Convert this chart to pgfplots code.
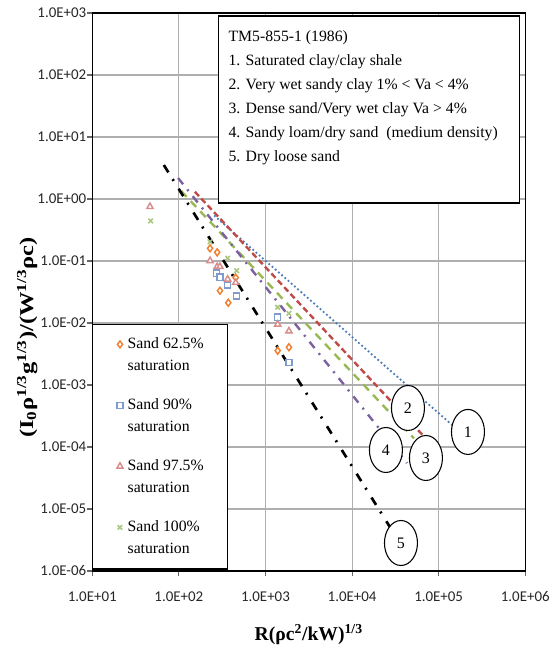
\documentclass[border=0pt]{standalone}
\usepackage{fontspec}
\setmainfont{Liberation Serif}
\newfontfamily\calibri{Carlito}
\usepackage{graphicx}
\usepackage{pgfplots}
\pgfplotsset{compat=1.18}
\usetikzlibrary{shapes.geometric}
\definecolor{lA}{RGB}{74,126,187}
\definecolor{lB}{RGB}{190,75,72}
\definecolor{lC}{RGB}{152,185,84}
\definecolor{lD}{RGB}{125,96,160}
\definecolor{mOr}{RGB}{240,128,48}
\definecolor{mBl}{RGB}{125,155,205}
\definecolor{mPk}{RGB}{217,140,140}
\definecolor{mGr}{RGB}{170,200,130}
\definecolor{gridc}{RGB}{175,175,175}
\pgfplotsset{
  mk/.style={only marks, legend image code/.code={\draw[##1] plot coordinates {(0pt,3.2pt)};}},
}
\begin{document}
\begin{tikzpicture}
\begin{axis}[
  scale only axis, width=324.75pt, height=418.5pt,
  xmode=log, ymode=log, xmin=10, xmax=1e6, ymin=1e-6, ymax=1e3,
  xtick={1e1,1e2,1e3,1e4,1e5,1e6},
  xticklabels={1.0E+01,1.0E+02,1.0E+03,1.0E+04,1.0E+05,1.0E+06},
  ytick={1e-6,1e-5,1e-4,1e-3,1e-2,1e-1,1,1e1,1e2,1e3},
  yticklabels={1.0E-06,1.0E-05,1.0E-04,1.0E-03,1.0E-02,1.0E-01,1.0E+00,1.0E+01,1.0E+02,1.0E+03},
  xminorticks=false, yminorticks=false,
  grid=major, major grid style={gridc, line width=0.8pt},
  tick align=outside, tick pos=left, major tick length=3.75pt,
  tick style={black!60, line width=0.8pt},
  axis line style={black, line width=1.1pt},
  ticklabel style={font=\calibri\fontsize{11.2}{13}\selectfont, text=black!85},
  xticklabel style={yshift=-8pt},
  yticklabel style={inner xsep=0.6pt},
  clip=false,
  xlabel={R(ρc\textsuperscript{2}/kW)\textsuperscript{1/3}},
  xlabel style={at={(axis description cs:0.5,-0.1147)}, anchor=center, font=\bfseries\fontsize{14.7}{17}\selectfont},
  legend style={at={(rel axis cs:0,0.4427)}, anchor=north west, draw=black, line width=0.9pt,
    font=\fontsize{11.8}{16.5}\selectfont, inner xsep=18pt, inner ysep=6.5pt,
    row sep=12.75pt, column sep=3.4pt, cells={anchor=base west},
    nodes={inner sep=0pt, text height=11.55pt, text depth=21.45pt}},
]
% scatter data
\addplot[mk, mark=diamond*, mark size=2.6pt, mark options={draw=mOr, fill=white, line width=1.1pt}] coordinates {
 (229,0.160) (277,0.138) (298,0.0332) (372,0.0212) (453,0.054) (1384,0.00357) (1866,0.00406)};
\addlegendentry{\begin{tabular}[t]{@{}l@{}}Sand 62.5\%\\saturation\end{tabular}}
\addplot[mk, mark=square*, mark size=2.3pt, mark options={draw=mBl, fill=white, line width=1.1pt}] coordinates {
 (273,0.0634) (298,0.0546) (366,0.0410) (465,0.0272) (1384,0.01236) (1866,0.00232)};
\addlegendentry{\begin{tabular}[t]{@{}l@{}}Sand 90\%\\saturation\end{tabular}}
\addplot[mk, mark=triangle*, mark size=2.7pt, mark options={draw=mPk, fill=white, line width=1.1pt}] coordinates {
 (46.4,0.751) (229,0.101) (277,0.081) (298,0.081) (366,0.0507) (453,0.0447) (1384,0.00953) (1866,0.0074)};
\addlegendentry{\begin{tabular}[t]{@{}l@{}}Sand 97.5\%\\saturation\end{tabular}}
\addplot[mk, mark=x, mark size=2.4pt, mark options={draw=mGr, line width=1.2pt}] coordinates {
 (47.2,0.442) (229,0.205) (366,0.111) (465,0.0698) (1384,0.0179) (1866,0.0143)};
\addlegendentry{\begin{tabular}[t]{@{}l@{}}Sand 100\%\\saturation\end{tabular}}
% TM5-855-1 lines
\addplot[forget plot, lA, line width=1.9pt, line cap=round, dash pattern=on 0pt off 3.2pt] coordinates {(260,0.53) (1.43e5,2.26e-4)};
\addplot[forget plot, lB, line width=1.8pt, dash pattern=on 4.5pt off 2.5pt] coordinates {(153,1.31) (6.53e4,1.56e-4)};
\addplot[forget plot, lC, line width=1.8pt, dash pattern=on 6pt off 4.5pt] coordinates {(106,1.35) (5.19e4,1.38e-4)};
\addplot[forget plot, lD, line width=1.8pt, dash pattern=on 6pt off 5pt on 1.5pt off 5pt] coordinates {(98,2.18) (4.3e4,5.5e-5)};
\addplot[forget plot, black, line width=2pt, dash pattern=on 6.5pt off 6pt on 1.5pt off 7pt] coordinates {(67,3.53) (2.74e4,5.1e-6)};
% circled numbers
\tikzset{circ/.style={draw=black, fill=white, ellipse, minimum width=24.75pt, minimum height=33.75pt, inner sep=0pt, line width=0.8pt, font=\fontsize{12}{14}\selectfont}}
\node[circ] at (axis cs:2.18e5,1.75e-4) {1};
\node[circ] at (axis cs:4.42e4,4.26e-4) {2};
\node[circ] at (axis cs:7.13e4,6.65e-5) {3};
\node[circ] at (axis cs:2.46e4,8.95e-5) {4};
\node[circ] at (axis cs:3.67e4,2.83e-6) {5};
% text box
\draw[black, line width=0.9pt, fill=white] (rel axis cs:0.2914,0.6595) rectangle (rel axis cs:0.9875,0.9946);
\begin{scope}[every node/.style={anchor=base west, inner sep=0pt, font=\fontsize{11.8}{14}\selectfont}]
\node at (rel axis cs:0.3143,0.9489) {TM5-855-1 (1986)};
\node at (rel axis cs:0.3143,0.9059) {1. Saturated clay/clay shale};
\node at (rel axis cs:0.3143,0.8629) {2. Very wet sandy clay 1\% < Va < 4\%};
\node at (rel axis cs:0.3143,0.8199) {3. Dense sand/Very wet clay Va > 4\%};
\node at (rel axis cs:0.3143,0.7769) {4. Sandy loam/dry sand \ (medium density)};
\node at (rel axis cs:0.3143,0.7339) {5. Dry loose sand};
\end{scope}
% y label
\node[rotate=90, anchor=center, inner sep=0pt, font=\bfseries\fontsize{14.7}{17}\selectfont] at (rel axis cs:-0.150,0.4185)
  {\scalebox{1.25}[1]{(I\textsubscript{0}ρ\textsuperscript{1/3}g\textsuperscript{1/3})/(W\textsuperscript{1/3}ρc)}};
\end{axis}
\pgfresetboundingbox
\path[use as bounding box] ([shift={(-69.2pt,-60.75pt)}]current axis.south west) rectangle ([shift={(18.75pt,9.75pt)}]current axis.north east);
\end{tikzpicture}
\end{document}
